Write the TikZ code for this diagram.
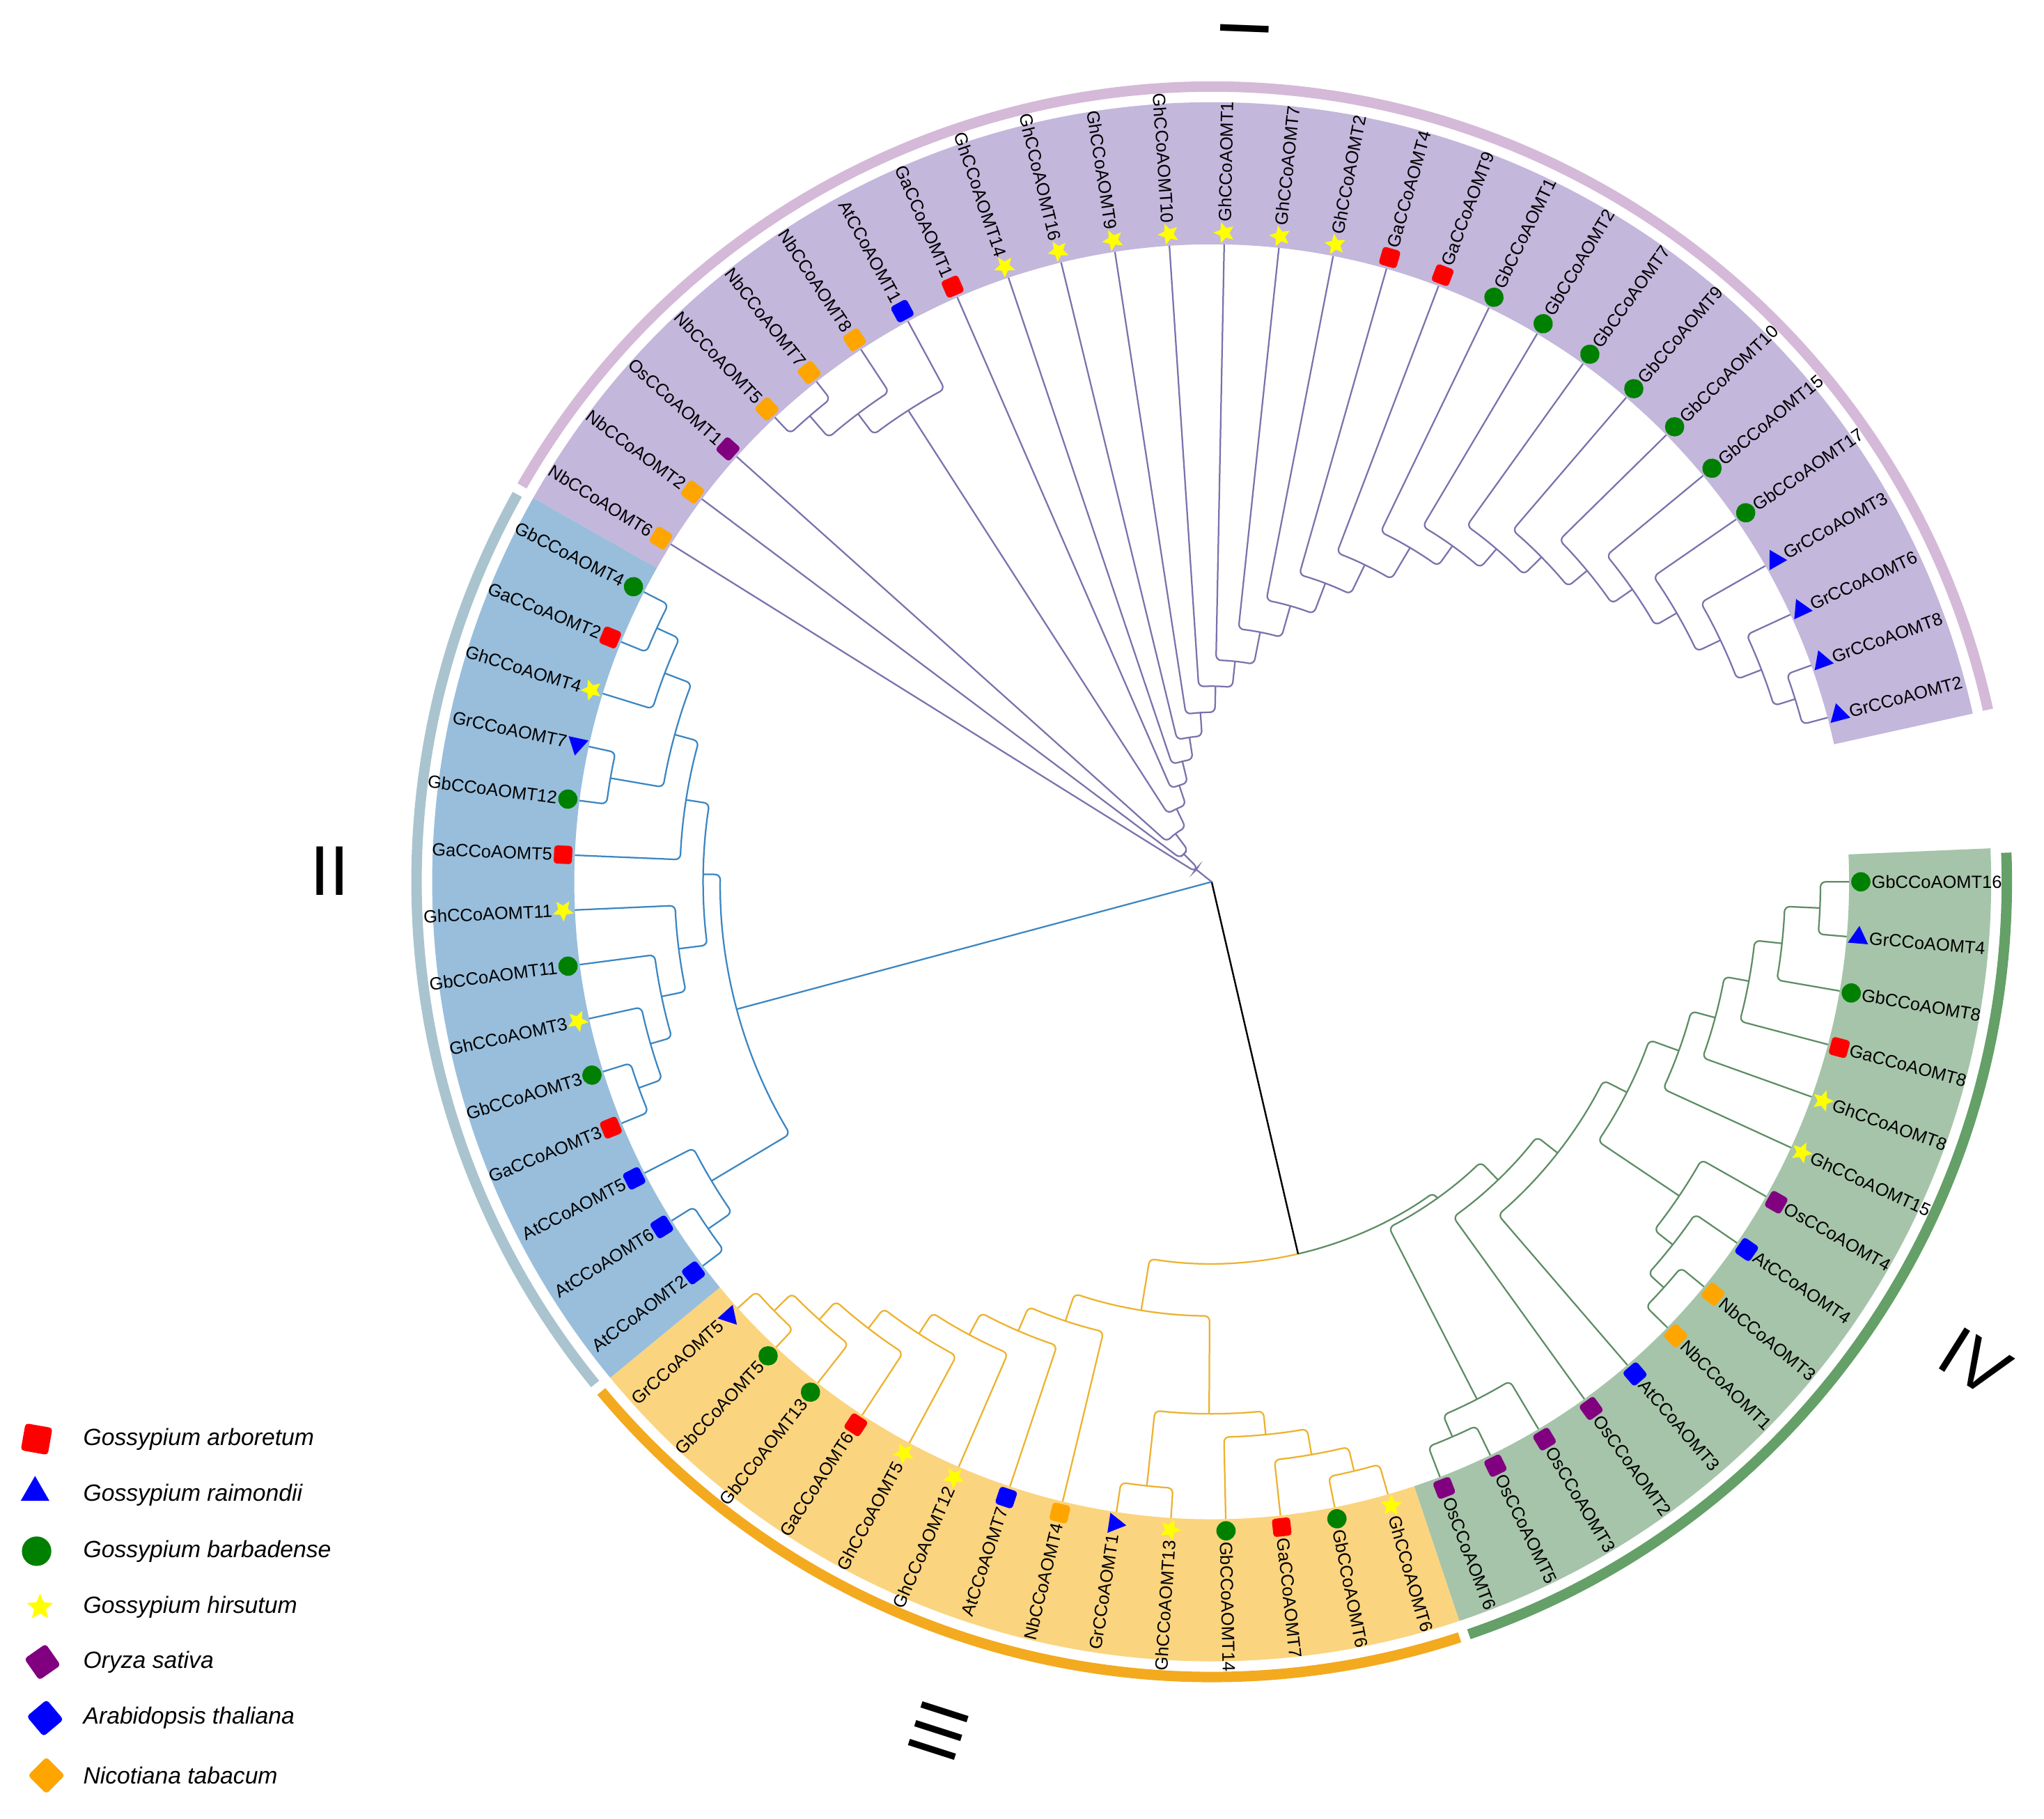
\documentclass[tikz,border=0pt]{standalone}
\usepackage{fontspec}
\setmainfont{Liberation Sans}
\usetikzlibrary{shapes.geometric}
\definecolor{bandP}{HTML}{C3B7DC}
\definecolor{bandB}{HTML}{98BEDC}
\definecolor{bandY}{HTML}{FBD47F}
\definecolor{bandG}{HTML}{A6C4A9}
\definecolor{ringP}{HTML}{D5B9D8}
\definecolor{ringB}{HTML}{A9C4CE}
\definecolor{ringY}{HTML}{F3AA1F}
\definecolor{ringG}{HTML}{64A067}
\definecolor{cP}{HTML}{7A72AC}
\definecolor{cB}{HTML}{3B86C2}
\definecolor{cY}{HTML}{EDB22E}
\definecolor{cG}{HTML}{5D8D64}
\definecolor{mkRed}{HTML}{FF0000}
\definecolor{mkBlue}{HTML}{0000FF}
\definecolor{mkGreen}{HTML}{008000}
\definecolor{mkYellow}{HTML}{FFFF00}
\definecolor{mkPurple}{HTML}{800080}
\definecolor{mkOrange}{HTML}{FFA500}
\newcommand\dA{4.929577}
\newcommand\Lr{489}
% branch: style, node radius, child1 index, child1 radius, child2 index, child2 radius
\newcommand\br[6]{\draw[#1] ({-(#3)*\dA}:#4) -- ({-(#3)*\dA}:#2) arc[start angle={-(#3)*\dA}, end angle={-(#5)*\dA}, radius={(#2)*0.5pt}] -- ({-(#5)*\dA}:#6);}
\newcommand\band[3]{\fill[#1] ({#2}:489) -- ({#2}:598) arc[start angle={#2}, end angle={#3}, radius=299pt] -- ({#3}:489) arc[start angle={#3}, end angle={#2}, radius=244.5pt] -- cycle;}
\newcommand\ring[3]{\draw[line width=4pt,#1] ({#2}:610) arc[start angle={#2}, end angle={#3}, radius=305pt];}
\newcommand\leaf[3]{%
 \pgfmathsetmacro\ang{-(#1)*\dA}%
 \pgfmathsetmacro\cosv{cos(\ang)}%
 \node[#2, rotate=\ang] (m#1) at (\ang:498) {};%
 \ifdim\cosv pt>0pt
   \node[lbl, anchor=west, rotate=\ang] (t#1) at (\ang:506) {#3};%
 \else
   \pgfmathsetmacro\angb{\ang+180}%
   \node[lbl, anchor=east, rotate=\angb] (t#1) at (\ang:506) {#3};%
 \fi}
\tikzset{
 lnP/.style={cP, line width=0.6pt, rounded corners=2pt},
 lnB/.style={cB, line width=0.6pt, rounded corners=2pt},
 lnY/.style={cY, line width=0.6pt, rounded corners=2pt},
 lnG/.style={cG, line width=0.6pt, rounded corners=2pt},
 sq/.style={rectangle, rounded corners=1.2pt, minimum size=7pt, inner sep=0pt},
 mGa/.style={sq, fill=mkRed},
 mAt/.style={sq, fill=mkBlue},
 mOs/.style={sq, fill=mkPurple},
 mNb/.style={sq, fill=mkOrange},
 mGb/.style={circle, minimum size=7.4pt, inner sep=0pt, fill=mkGreen},
 mGr/.style={regular polygon, regular polygon sides=3, minimum size=9pt, inner sep=0pt, fill=mkBlue},
 mGh/.style={star, star points=5, star point ratio=2.2, minimum size=8.5pt, inner sep=0pt, fill=mkYellow},
 lbl/.style={font=\fontsize{6.8}{7}\selectfont, inner sep=0pt, text=black},
 legt/.style={font=\fontsize{9}{10}\selectfont\itshape, inner sep=0pt, anchor=west, text=black},
 numl/.style={font=\fontsize{27}{27}\selectfont, inner sep=0pt, text=black}
}
\begin{document}
\begin{tikzpicture}[x=0.5pt,y=0.5pt]
\useasboundingbox[fill=white] (-929.5,-718.5) rectangle (638.5,676.5);
% bands
\band{bandG}{2.4648}{-71.4789}
\band{bandY}{-71.4789}{-140.493}
\band{bandB}{-140.493}{-209.507}
\band{bandP}{-209.507}{-347.535}
% rings
\ring{ringG}{2.1}{-71.13}
\ring{ringY}{-71.83}{-140.14}
\ring{ringB}{-140.84}{-209.16}
\ring{ringP}{-209.86}{-347.5}
% ---------- green clade
\br{lnG}{467}{0}{\Lr}{1}{\Lr}
\br{lnG}{440}{0.5}{467}{2}{\Lr}
\br{lnG}{419}{1.25}{440}{3}{\Lr}
\br{lnG}{400}{2.125}{419}{4}{\Lr}
\br{lnG}{381}{3.0625}{400}{5}{\Lr}
\br{lnG}{466}{8}{\Lr}{9}{\Lr}
\br{lnG}{450}{7}{\Lr}{8.5}{466}
\br{lnG}{432}{6}{\Lr}{7.75}{450}
\br{lnG}{357}{4.03125}{381}{6.875}{432}
\br{lnG}{337}{5.453125}{357}{10}{\Lr}
\br{lnG}{317}{7.7265625}{337}{11}{\Lr}
\br{lnG}{464}{13}{\Lr}{14}{\Lr}
\br{lnG}{446}{12}{\Lr}{13.5}{464}
\br{lnG}{298}{9.36328}{317}{12.75}{446}
% ---------- yellow clade
\br{lnY}{465}{15}{\Lr}{16}{\Lr}
\br{lnY}{446}{15.5}{465}{17}{\Lr}
\br{lnY}{426}{16.25}{446}{18}{\Lr}
\br{lnY}{466}{19}{\Lr}{20}{\Lr}
\br{lnY}{408}{17.125}{426}{19.5}{466}
\br{lnY}{470}{27}{\Lr}{28}{\Lr}
\br{lnY}{451}{26}{\Lr}{27.5}{470}
\br{lnY}{432}{25}{\Lr}{26.75}{451}
\br{lnY}{413}{24}{\Lr}{25.875}{432}
\br{lnY}{394}{23}{\Lr}{24.9375}{413}
\br{lnY}{375}{22}{\Lr}{23.96875}{394}
\br{lnY}{355}{21}{\Lr}{22.984375}{375}
\br{lnY}{333}{18.3125}{408}{21.9921875}{355}
% yellow+green root
\draw[lnY] ({-20.15234*\dA}:333) -- ({-20.15234*\dA}:293) arc[start angle={-20.15234*\dA}, end angle={-15.60449*\dA}, radius=146.5pt];
\draw[lnG] ({-15.60449*\dA}:293) arc[start angle={-15.60449*\dA}, end angle={-11.05664*\dA}, radius=146.5pt] -- ({-11.05664*\dA}:298);
\draw[black, line width=0.65pt] (0,0) -- ({-15.60449*\dA}:293);
% ---------- blue clade
\br{lnB}{469}{29}{\Lr}{30}{\Lr}
\br{lnB}{447}{29.5}{469}{31}{\Lr}
\br{lnB}{467}{32}{\Lr}{33}{\Lr}
\br{lnB}{448}{32.5}{467}{34}{\Lr}
\br{lnB}{431}{33.25}{448}{35}{\Lr}
\br{lnB}{412}{34.125}{431}{36}{\Lr}
\br{lnB}{468}{41}{\Lr}{42}{\Lr}
\br{lnB}{449}{40}{\Lr}{41.5}{468}
\br{lnB}{468}{38}{\Lr}{39}{\Lr}
\br{lnB}{427}{38.5}{468}{40.75}{449}
\br{lnB}{408}{37}{\Lr}{39.625}{427}
\br{lnB}{390}{35.0625}{412}{38.3125}{408}
\br{lnB}{377}{30.25}{447}{36.6875}{390}
\draw[lnB] (0,0) -- ({-33.46875*\dA}:377);
% ---------- purple clade
\br{lnP}{472}{46}{\Lr}{47}{\Lr}
\br{lnP}{450}{46.5}{472}{48}{\Lr}
\br{lnP}{430}{47.25}{450}{49}{\Lr}
\br{lnP}{469}{69}{\Lr}{70}{\Lr}
\br{lnP}{452}{68}{\Lr}{69.5}{469}
\br{lnP}{432}{67}{\Lr}{68.75}{452}
\br{lnP}{412}{66}{\Lr}{67.875}{432}
\br{lnP}{393}{65}{\Lr}{66.9375}{412}
\br{lnP}{374}{64}{\Lr}{65.96875}{393}
\br{lnP}{355}{63}{\Lr}{64.984375}{374}
\br{lnP}{336}{62}{\Lr}{63.9921875}{355}
\br{lnP}{317}{61}{\Lr}{62.99609}{336}
\br{lnP}{298}{60}{\Lr}{61.99805}{317}
\br{lnP}{270}{59}{\Lr}{60.99902}{298}
\br{lnP}{245}{58}{\Lr}{59.99951}{270}
\br{lnP}{220}{57}{\Lr}{58.99976}{245}
\br{lnP}{195}{56}{\Lr}{57.99988}{220}
\br{lnP}{170}{55}{\Lr}{56.99994}{195}
\br{lnP}{150}{54}{\Lr}{55.99997}{170}
\br{lnP}{130}{53}{\Lr}{54.99998}{150}
\br{lnP}{112}{52}{\Lr}{53.99999}{130}
\br{lnP}{95}{51}{\Lr}{53}{112}
\br{lnP}{78}{50}{\Lr}{52}{95}
\br{lnP}{62}{48.125}{430}{51}{78}
\br{lnP}{46}{45}{\Lr}{49.5625}{62}
\br{lnP}{30}{44}{\Lr}{47.28125}{46}
\br{lnP}{15}{43}{\Lr}{45.640625}{30}
\draw[lnP] (0,0) -- ({-44.3203*\dA}:15);
% ---------- leaves
\foreach \i/\s/\n in {
0/mGb/GbCCoAOMT16, 1/mGr/GrCCoAOMT4, 2/mGb/GbCCoAOMT8, 3/mGa/GaCCoAOMT8,
4/mGh/GhCCoAOMT8, 5/mGh/GhCCoAOMT15, 6/mOs/OsCCoAOMT4, 7/mAt/AtCCoAOMT4,
8/mNb/NbCCoAOMT3, 9/mNb/NbCCoAOMT1, 10/mAt/AtCCoAOMT3, 11/mOs/OsCCoAOMT2,
12/mOs/OsCCoAOMT3, 13/mOs/OsCCoAOMT5, 14/mOs/OsCCoAOMT6,
15/mGh/GhCCoAOMT6, 16/mGb/GbCCoAOMT6, 17/mGa/GaCCoAOMT7, 18/mGb/GbCCoAOMT14,
19/mGh/GhCCoAOMT13, 20/mGr/GrCCoAOMT1, 21/mNb/NbCCoAOMT4, 22/mAt/AtCCoAOMT7,
23/mGh/GhCCoAOMT12, 24/mGh/GhCCoAOMT5, 25/mGa/GaCCoAOMT6, 26/mGb/GbCCoAOMT13,
27/mGb/GbCCoAOMT5, 28/mGr/GrCCoAOMT5,
29/mAt/AtCCoAOMT2, 30/mAt/AtCCoAOMT6, 31/mAt/AtCCoAOMT5, 32/mGa/GaCCoAOMT3,
33/mGb/GbCCoAOMT3, 34/mGh/GhCCoAOMT3, 35/mGb/GbCCoAOMT11, 36/mGh/GhCCoAOMT11,
37/mGa/GaCCoAOMT5, 38/mGb/GbCCoAOMT12, 39/mGr/GrCCoAOMT7, 40/mGh/GhCCoAOMT4,
41/mGa/GaCCoAOMT2, 42/mGb/GbCCoAOMT4,
43/mNb/NbCCoAOMT6, 44/mNb/NbCCoAOMT2, 45/mOs/OsCCoAOMT1, 46/mNb/NbCCoAOMT5,
47/mNb/NbCCoAOMT7, 48/mNb/NbCCoAOMT8, 49/mAt/AtCCoAOMT1, 50/mGa/GaCCoAOMT1,
51/mGh/GhCCoAOMT14, 52/mGh/GhCCoAOMT16, 53/mGh/GhCCoAOMT9, 54/mGh/GhCCoAOMT10,
55/mGh/GhCCoAOMT1, 56/mGh/GhCCoAOMT7, 57/mGh/GhCCoAOMT2, 58/mGa/GaCCoAOMT4,
59/mGa/GaCCoAOMT9, 60/mGb/GbCCoAOMT1, 61/mGb/GbCCoAOMT2, 62/mGb/GbCCoAOMT7,
63/mGb/GbCCoAOMT9, 64/mGb/GbCCoAOMT10, 65/mGb/GbCCoAOMT15, 66/mGb/GbCCoAOMT17,
67/mGr/GrCCoAOMT3, 68/mGr/GrCCoAOMT6, 69/mGr/GrCCoAOMT8, 70/mGr/GrCCoAOMT2}
{\leaf{\i}{\s}{\n}}
% ---------- clade numerals
\node[numl, rotate=87.8] (n1) at (25.5,654.5) {I};
\node[numl] (n2) at (-676.5,8.5) {II};
\node[numl, rotate=72.2] (n3) at (-209.5,-651.5) {III};
\node[numl, rotate=-32.2] (n4) at (585.5,-368.5) {IV};
% ---------- legend
\node[mGa, minimum size=10.5pt, rotate=-10] (lg1) at (-901.4,-427.5) {};
\node[legt] (lt1) at (-866,-427.5) {Gossypium arboretum};
\node[mGr, minimum size=12.7pt] (lg2) at (-902.6,-468.5) {};
\node[legt] (lt2) at (-866,-470.5) {Gossypium raimondii};
\node[mGb, minimum size=11.3pt] (lg3) at (-901.4,-513.5) {};
\node[legt] (lt3) at (-866,-513.5) {Gossypium barbadense};
\node[mGh, minimum size=10.5pt] (lg4) at (-898.8,-556.5) {};
\node[legt] (lt4) at (-866,-556.5) {Gossypium hirsutum};
\node[mOs, minimum size=10pt, rotate=35] (lg5) at (-896.9,-598.5) {};
\node[legt] (lt5) at (-866,-598.5) {Oryza sativa};
\node[mAt, minimum size=10pt, rotate=40] (lg6) at (-894.9,-641.5) {};
\node[legt] (lt6) at (-866,-641.5) {Arabidopsis thaliana};
\node[mNb, minimum size=10pt, rotate=45] (lg7) at (-893.9,-685.5) {};
\node[legt] (lt7) at (-866,-685.5) {Nicotiana tabacum};
\end{tikzpicture}
\end{document}
